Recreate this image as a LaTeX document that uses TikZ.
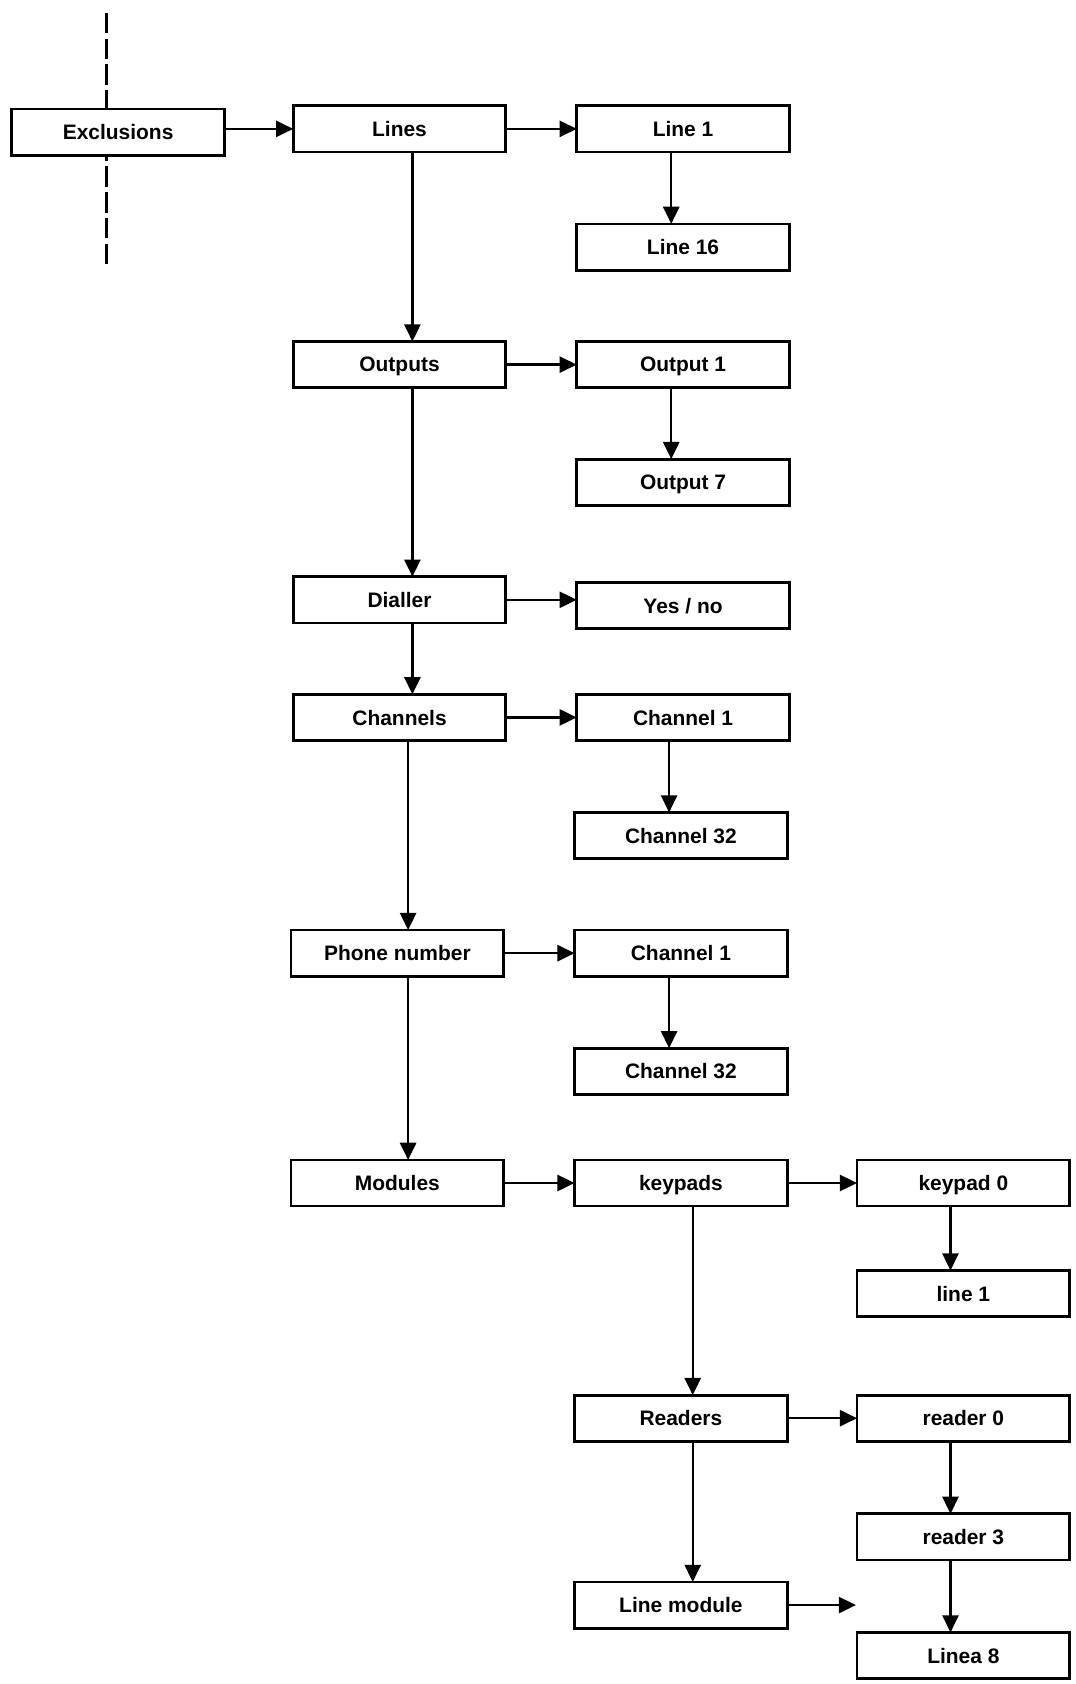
\documentclass[tikz,border=0pt]{standalone}
\usepackage{fontspec}
\setmainfont{Liberation Sans}
\usetikzlibrary{arrows.meta}
\tikzset{
  box/.style={draw, line width=2.6pt, minimum width=198pt, minimum height=43pt, inner sep=0pt, outer sep=0pt, text depth=0pt, font=\fontsize{19.5}{21}\selectfont\bfseries},
  arr/.style={line width=2.2pt, -{Triangle[length=16pt,width=15pt]}},
  dashline/.style={line width=2.2pt, dash pattern=on 19pt off 5pt}
}
\begin{document}
\begin{tikzpicture}[x=1pt,y=-1pt]
\useasboundingbox (0,0) rectangle (1001,1568);
\node[box] (excl) at (110,123) {Exclusions};
\node[box] (lines) at (372,120) {Lines};
\node[box] (line1) at (636,120) {Line 1};
\node[box] (line16) at (636,230) {Line 16};
\node[box] (outputs) at (372,339.5) {Outputs};
\node[box] (out1) at (636,339.5) {Output 1};
\node[box] (out7) at (636,449) {Output 7};
\node[box] (dialler) at (372,558.5) {Dialler};
\node[box] (yesno) at (636,564) {Yes / no};
\node[box] (channels) at (372,668) {Channels};
\node[box] (ch1) at (636,668) {Channel 1};
\node[box] (ch32) at (634,778) {Channel 32};
\node[box] (phone) at (370,887.5) {Phone number};
\node[box] (ch1b) at (634,887.5) {Channel 1};
\node[box] (ch32b) at (634,997.5) {Channel 32};
\node[box] (modules) at (370,1101.5) {Modules};
\node[box] (keypads) at (634,1101.5) {keypads};
\node[box] (keypad0) at (897,1101.5) {keypad 0};
\node[box] (line1b) at (897,1204.5) {line 1};
\node[box] (readers) at (634,1320.5) {Readers};
\node[box] (reader0) at (897,1320.5) {reader 0};
\node[box] (reader3) at (897,1431) {reader 3};
\node[box] (linemod) at (634,1494.5) {Line module};
\node[box] (linea8) at (897,1541.5) {Linea 8};
% dashed line through Exclusions
\coordinate (dtop) at (99,12);
\coordinate (dbot) at (99,246);
\draw[dashline] (dtop) -- (excl.north -| dtop);
\draw[dashline] (dbot) -- (excl.south -| dbot);
% horizontal arrows
\draw[arr] (excl.east |- lines) -- (lines.west);
\draw[arr] (lines.east) -- (line1.west);
\draw[arr] (outputs.east) -- (out1.west);
\draw[arr] (dialler.east) -- (dialler.east -| yesno.west);
\draw[arr] (channels.east) -- (ch1.west);
\draw[arr] (phone.east) -- (ch1b.west);
\draw[arr] (modules.east) -- (keypads.west);
\draw[arr] (keypads.east) -- (keypad0.west);
\draw[arr] (readers.east) -- (reader0.west);
\coordinate (lmend) at (797,1496);
\draw[arr] (linemod.east) -- (linemod.east -| lmend);
% vertical arrows, main column
\draw[arr] ([xshift=12pt]lines.south) -- ([xshift=12pt]lines.south |- outputs.north);
\draw[arr] ([xshift=12pt]outputs.south) -- ([xshift=12pt]outputs.south |- dialler.north);
\draw[arr] ([xshift=12pt]dialler.south) -- ([xshift=12pt]dialler.south |- channels.north);
\draw[arr] ([xshift=8pt]channels.south) -- ([xshift=8pt]channels.south |- phone.north);
\draw[arr] ([xshift=10pt]phone.south) -- ([xshift=10pt]phone.south |- modules.north);
% second column
\draw[arr] ([xshift=-11pt]line1.south) -- ([xshift=-11pt]line1.south |- line16.north);
\draw[arr] ([xshift=-11pt]out1.south) -- ([xshift=-11pt]out1.south |- out7.north);
\draw[arr] ([xshift=-13pt]ch1.south) -- ([xshift=-13pt]ch1.south |- ch32.north);
\draw[arr] ([xshift=-11pt]ch1b.south) -- ([xshift=-11pt]ch1b.south |- ch32b.north);
\draw[arr] ([xshift=11pt]keypads.south) -- ([xshift=11pt]keypads.south |- readers.north);
\draw[arr] ([xshift=11pt]readers.south) -- ([xshift=11pt]readers.south |- linemod.north);
% third column
\draw[arr] ([xshift=-12pt]keypad0.south) -- ([xshift=-12pt]keypad0.south |- line1b.north);
\draw[arr] ([xshift=-12pt]reader0.south) -- ([xshift=-12pt]reader0.south |- reader3.north);
\draw[arr] ([xshift=-12pt]reader3.south) -- ([xshift=-12pt]reader3.south |- linea8.north);
\end{tikzpicture}
\end{document}
